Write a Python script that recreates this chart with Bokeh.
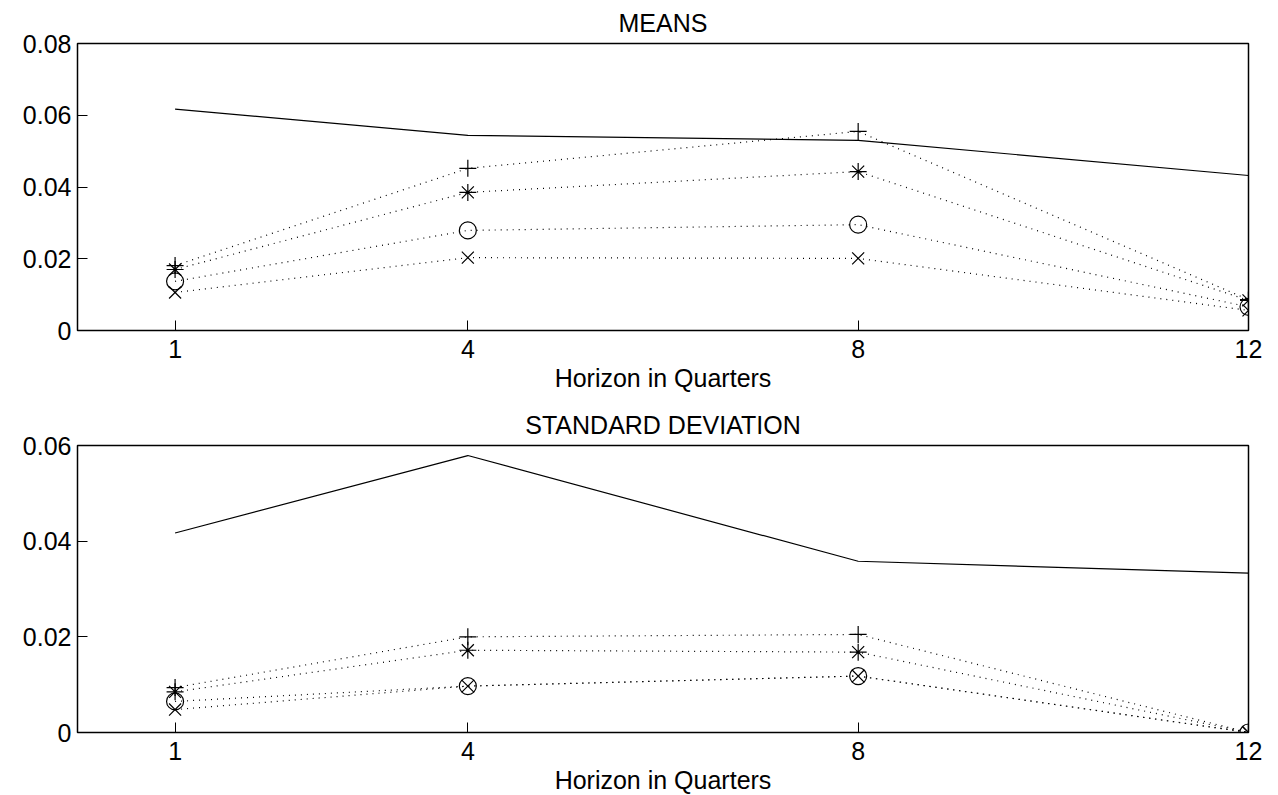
from bokeh.plotting import figure
from bokeh.layouts import column
from bokeh.models import FixedTicker, NumeralTickFormatter, Range1d
from bokeh.embed import file_html
from bokeh.resources import INLINE

# ---- data ----
horizon = [1, 4, 8, 12]
x_ticks = [1, 4, 8, 12]

means_solid = [0.0617, 0.0544, 0.0530, 0.0432]
means_plus = [0.0181, 0.0452, 0.0555, 0.0086]
means_star = [0.0170, 0.0385, 0.0443, 0.0084]
means_circle = [0.0137, 0.0279, 0.0295, 0.0066]
means_x = [0.0106, 0.0203, 0.0201, 0.0056]

sd_solid = [0.0417, 0.0579, 0.0358, 0.0333]
sd_plus = [0.0094, 0.0200, 0.0205, 0.0]
sd_star = [0.0085, 0.0172, 0.0168, 0.0]
sd_circle = [0.0065, 0.0097, 0.0118, 0.0]
sd_x = [0.0048, 0.0097, 0.0118, 0.0]

means_yticks = [0, 0.02, 0.04, 0.06, 0.08]
sd_yticks = [0, 0.02, 0.04, 0.06]

titles = ["MEANS", "STANDARD DEVIATION"]
xlabel = "Horizon in Quarters"

FONT = "Liberation Sans"
FS = "25px"


def make_panel(title, ymax, yticks, solid, plus, star, circ, xs, top_border, bottom_border):
    p = figure(
        frame_width=1171, frame_height=287,
        min_border_left=77, min_border_right=22,
        min_border_top=top_border, min_border_bottom=bottom_border,
        x_range=Range1d(0, 12), y_range=Range1d(0, ymax),
        output_backend="svg", toolbar_location=None,
        title=title,
    )
    p.title.text_font = FONT
    p.title.text_font_size = FS
    p.title.text_font_style = "normal"
    p.title.text_color = "black"
    p.title.align = "center"
    p.title.standoff = 13
    p.grid.visible = False
    p.outline_line_color = "black"
    p.outline_line_width = 1.5
    p.background_fill_color = "white"
    p.border_fill_color = "white"

    for ax in (p.xaxis[0], p.yaxis[0]):
        ax.major_tick_in = 10
        ax.major_tick_out = 0
        ax.minor_tick_line_color = None
        ax.axis_line_color = None
        ax.major_tick_line_color = "black"
        ax.major_label_text_font = FONT
        ax.major_label_text_font_size = FS
        ax.major_label_text_color = "black"
    p.xaxis[0].ticker = FixedTicker(ticks=x_ticks)
    p.yaxis[0].ticker = FixedTicker(ticks=yticks)
    p.yaxis[0].formatter = NumeralTickFormatter(format="0.[00]")
    p.yaxis[0].major_label_standoff = 6
    p.xaxis[0].major_label_standoff = 9
    p.xaxis[0].axis_label = xlabel
    p.xaxis[0].axis_label_text_font = FONT
    p.xaxis[0].axis_label_text_font_size = FS
    p.xaxis[0].axis_label_text_font_style = "normal"
    p.xaxis[0].axis_label_text_color = "black"
    p.xaxis[0].axis_label_standoff = 3

    p.line(horizon, solid, line_color="black", line_width=1.2)
    dash = "1 5"
    for ys, m in ((plus, "cross"), (star, "asterisk"), (circ, "circle"), (xs, "x")):
        p.line(horizon, ys, line_color="black", line_width=1.2, line_dash=dash)
        p.scatter(horizon, ys, marker=m, size=17, line_color="black",
                  fill_color=None, line_width=1.2)
    return p


p1 = make_panel(titles[0], 0.08, means_yticks, means_solid, means_plus, means_star,
                means_circle, means_x, 43, 70)
p2 = make_panel(titles[1], 0.06, sd_yticks, sd_solid, sd_plus, sd_star,
                sd_circle, sd_x, 45, 55)

layout = column(p1, p2, spacing=0)
open("out.html", "w").write(file_html(layout, INLINE))
